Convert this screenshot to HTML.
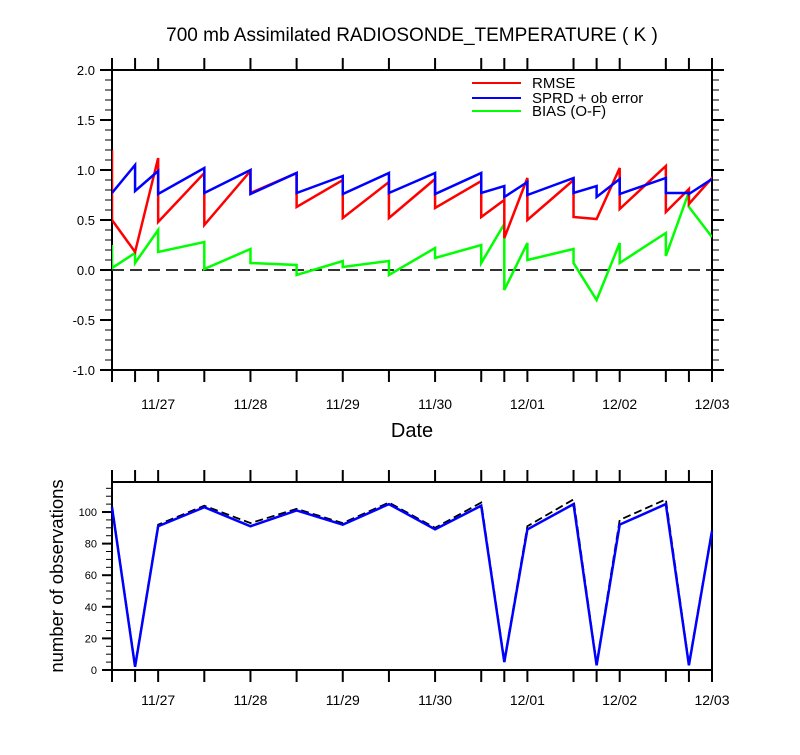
<!DOCTYPE html>
<html><head><meta charset="utf-8"><style>
body{margin:0;background:#fff;}
svg text{font-family:"Liberation Sans",Arial,sans-serif;fill:#000;}
</style></head><body>
<svg id="chart" width="800" height="750" xmlns="http://www.w3.org/2000/svg">
<text x="412" y="41" font-size="19" text-anchor="middle">700 mb Assimilated RADIOSONDE_TEMPERATURE ( K )</text>
<text x="412" y="437" font-size="20" text-anchor="middle">Date</text>
<text x="0" y="0" font-size="18.5" text-anchor="middle" transform="translate(63,576) rotate(-90)">number of observations</text>
<g id="topPlot"></g><g id="botPlot"></g>
<g>
<line x1="472" y1="83" x2="521" y2="83" stroke="#f00" stroke-width="2"/>
<text x="532" y="88" font-size="15">RMSE</text>
<line x1="472" y1="98" x2="521" y2="98" stroke="#00f" stroke-width="2"/>
<text x="532" y="103" font-size="15">SPRD + ob error</text>
<line x1="472" y1="111" x2="521" y2="111" stroke="#0f0" stroke-width="2"/>
<text x="532" y="116" font-size="15">BIAS (O-F)</text>
</g>
</svg>
<script>
// times in days since 11/26 12:00; each has [before, after] values
const times=[0,0.25,0.5,1,1.5,2,2.5,3,3.5,4,4.25,4.5,5,5.25,5.5,6,6.25,6.5];
const dateLabels=["11/27","11/28","11/29","11/30","12/01","12/02","12/03"];
const dateTimes=[0.5,1.5,2.5,3.5,4.5,5.5,6.5];
const rmseBefore=[1.2,0.18,1.12,0.97,0.99,0.97,0.90,0.88,0.91,0.89,0.70,0.92,0.90,0.51,1.02,1.04,0.81,0.92];
const rmseAfter=[0.5,0.18,0.48,0.45,0.77,0.63,0.52,0.52,0.62,0.53,0.32,0.50,0.53,0.51,0.61,0.58,0.66,0.90];
const sprdBefore=[0.77,1.05,0.99,1.02,1.0,0.97,0.94,0.97,0.97,0.97,0.84,0.88,0.92,0.84,0.91,0.92,0.77,0.91];
const sprdAfter=[0.77,0.79,0.76,0.77,0.76,0.77,0.76,0.77,0.76,0.77,0.73,0.75,0.77,0.73,0.76,0.77,0.76,0.91];
const biasBefore=[0.25,0.17,0.40,0.28,0.21,0.05,0.09,0.09,0.22,0.25,0.46,0.27,0.21,-0.30,0.27,0.37,0.78,0.33];
const biasAfter=[0.02,0.07,0.18,0.01,0.07,-0.05,0.03,-0.05,0.12,0.07,-0.20,0.10,0.07,-0.30,0.07,0.14,0.63,0.33];
const obsUsed=[103,2,91,103,91,101,92,105,89,104,5,89,105,3,92,105,3,88];
const obsTotal=[104,3,92,104,93,102,93,106,90,106,6,91,108,4,95,108,4,89];
const topTicks=[2.0,1.5,1.0,0.5,0.0,-0.5,-1.0];
const botTicks=[0,20,40,60,80,100];

const NS="http://www.w3.org/2000/svg";
function mk(p,t,a){const e=document.createElementNS(NS,t);for(const k in a)e.setAttribute(k,a[k]);p.appendChild(e);return e;}
const X0=112,X1=712;
const xs=t=>X0+(t/6.5)*(X1-X0);
const yT=v=>270-v*100;
const yB=v=>670-v*(188/119);
const gTop=document.getElementById('topPlot'),gBot=document.getElementById('botPlot');

function xAxis(g,yb,ytop,off){
  times.forEach(t=>{
    const a=mk(g,'line',{x1:xs(t),y1:yb,x2:xs(t),y2:yb+12,stroke:'#000','stroke-width':2});
    
    
    const b=mk(g,'line',{x1:xs(t),y1:ytop,x2:xs(t),y2:ytop-12,stroke:'#000','stroke-width':2});
    
    
  });
  dateLabels.forEach((d,i)=>{
    const tx=mk(g,'text',{x:xs(dateTimes[i]),y:yb+off,'font-size':14,'text-anchor':'middle'});
    
    
    tx.textContent=d;
  });
}
const fr=mk(gTop,'rect',{x:X0,y:70,width:X1-X0,height:300,fill:'none',stroke:'#000','stroke-width':2});


xAxis(gTop,370,70,39);
for(let k=-10;k<=20;k++){
  const v=k/10;
  const maj=k%5===0;
  const L=maj?12:7;
  mk(gTop,'line',{x1:X0-L,y1:yT(v),x2:X0,y2:yT(v),stroke:'#000','stroke-width':maj?2:1});
  mk(gTop,'line',{x1:X1,y1:yT(v),x2:X1+L,y2:yT(v),stroke:'#000','stroke-width':maj?2:1});
}
topTicks.forEach(v=>{
  const tx=mk(gTop,'text',{x:X0-17,y:yT(v)+5,'font-size':13,'text-anchor':'end'});
  
  
  tx.textContent=v.toFixed(1);
});
const zl=mk(gTop,'line',{x1:X0,y1:yT(0),x2:X1,y2:yT(0),stroke:'#333','stroke-width':2,'stroke-dasharray':'12,6'});


function saw(b,a){return times.map((t,i)=>xs(t)+','+yT(b[i])+' '+xs(t)+','+yT(a[i])).join(' ');}
const clip=mk(gTop,'clipPath',{id:'cp'});mk(clip,'rect',{x:X0,y:70,width:X1-X0,height:300});
const l1=mk(gTop,'polyline',{points:saw(biasBefore,biasAfter),fill:'none',stroke:'#0f0','stroke-width':2.5,'clip-path':'url(#cp)'});


const l2=mk(gTop,'polyline',{points:saw(rmseBefore,rmseAfter),fill:'none',stroke:'#f00','stroke-width':2.5,'clip-path':'url(#cp)'});


const l3=mk(gTop,'polyline',{points:saw(sprdBefore,sprdAfter),fill:'none',stroke:'#00f','stroke-width':2.5,'clip-path':'url(#cp)'});



const fr2=mk(gBot,'rect',{x:X0,y:482,width:X1-X0,height:188,fill:'none',stroke:'#000','stroke-width':2});


xAxis(gBot,670,482,35);
for(let v=0;v<=115;v+=5){
  const maj=v%20===0;
  mk(gBot,'line',{x1:X0-(maj?10:6),y1:yB(v),x2:X0,y2:yB(v),stroke:'#000','stroke-width':maj?2:1});
}
botTicks.forEach(v=>{
  const tx=mk(gBot,'text',{x:X0-15,y:yB(v)+4,'font-size':11,'text-anchor':'end'});
  
  
  tx.textContent=v;
});
const b1=mk(gBot,'polyline',{points:times.map((t,i)=>xs(t)+','+yB(obsTotal[i])).join(' '),fill:'none',stroke:'#000','stroke-width':1.8,'stroke-dasharray':'8,4'});


const b2=mk(gBot,'polyline',{points:times.map((t,i)=>xs(t)+','+yB(obsUsed[i])).join(' '),fill:'none',stroke:'#00f','stroke-width':2.5});


</script>
</body></html>
